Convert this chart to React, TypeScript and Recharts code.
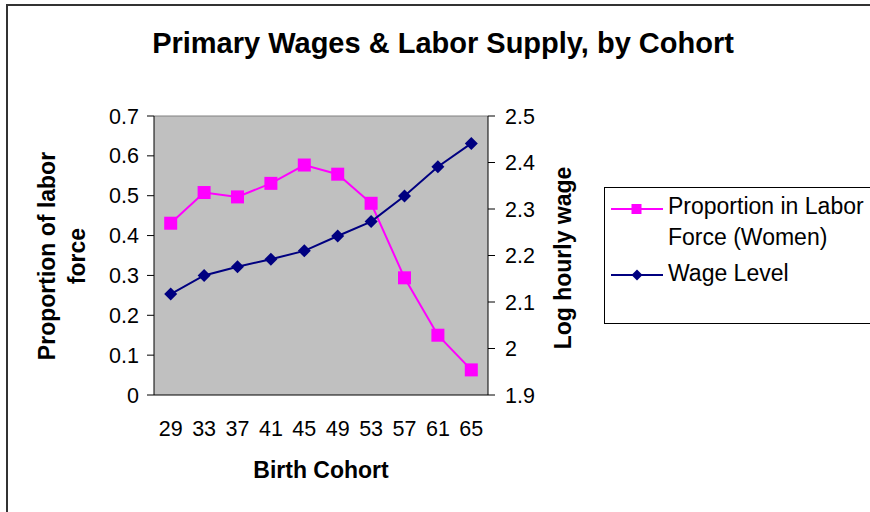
import { LineChart, Line, XAxis, YAxis, CartesianGrid, ReferenceLine } from "recharts";

// birth cohort (year of birth, 19xx)
const cohorts = [29, 33, 37, 41, 45, 49, 53, 57, 61, 65];
const cohortEdges = [27, 31, 35, 39, 43, 47, 51, 55, 59, 63, 67];
const laborShare = [0.431, 0.508, 0.497, 0.531, 0.577, 0.554, 0.481, 0.294, 0.15, 0.063];
const wageLevel = [2.117, 2.157, 2.176, 2.192, 2.21, 2.242, 2.273, 2.328, 2.391, 2.441];
const leftTicks = [0, 0.1, 0.2, 0.3, 0.4, 0.5, 0.6, 0.7];
const rightTicks = [1.9, 2, 2.1, 2.2, 2.3, 2.4, 2.5];

const PINK = "#FF00FF";
const NAVY = "#000080";
const FONT = "'Liberation Sans', Arial, sans-serif";

const data = cohorts.map((c, i) => ({
  cohort: c,
  labor: laborShare[i],
  wage: wageLevel[i],
}));

const tickStyle = { fontSize: 21.5, fill: "#000", fontFamily: FONT };

const SquareDot = (p: any) => (
  <rect key={`sq-${p.index}`} x={p.cx - 6.5} y={p.cy - 6.5} width={13} height={13} fill={PINK} />
);

const DiamondDot = (p: any) => (
  <polygon
    key={`dm-${p.index}`}
    points={`${p.cx},${p.cy - 6.5} ${p.cx + 6.5},${p.cy} ${p.cx},${p.cy + 6.5} ${p.cx - 6.5},${p.cy}`}
    fill={NAVY}
  />
);

function VText({ x, y, lines }: { x: number; y: number; lines: string[] }) {
  return (
    <div
      style={{
        position: "absolute",
        left: x,
        top: y,
        transform: "translate(-50%, -50%) rotate(-90deg)",
        whiteSpace: "nowrap",
        textAlign: "center",
        fontWeight: "bold",
        fontSize: 23,
        lineHeight: "30px",
      }}
    >
      {lines.map((l) => (
        <div key={l}>{l}</div>
      ))}
    </div>
  );
}

export default function App() {
  return (
    <div
      style={{
        position: "fixed",
        left: 0,
        top: 0,
        width: 870,
        height: 512,
        overflow: "hidden",
        background: "#fff",
        fontFamily: FONT,
        color: "#000",
      }}
    >
      <div
        style={{
          position: "absolute",
          left: 6,
          top: 4,
          width: 1000,
          height: 1000,
          border: "2px solid #333",
        }}
      />
      <div style={{ position: "absolute", left: 0, top: 0 }}>
        <LineChart
          width={870}
          height={512}
          data={data}
          margin={{ top: 116, right: 322, bottom: 56, left: 94 }}
        >
          <CartesianGrid
            xAxisId="lab"
            yAxisId="left"
            horizontal={false}
            vertical={false}
            fill="#C0C0C0"
          />
          <XAxis
            xAxisId="edge"
            dataKey="cohort"
            type="number"
            domain={[27, 67]}
            ticks={cohortEdges}
            tick={false}
            axisLine={{ stroke: "#000" }}
            tickLine={{ stroke: "#000" }}
            tickSize={7}
            height={1}
          />
          <XAxis
            xAxisId="lab"
            dataKey="cohort"
            type="number"
            domain={[27, 67]}
            ticks={cohorts}
            interval={0}
            axisLine={false}
            tickLine={false}
            tickSize={0}
            tickMargin={25}
            tick={tickStyle}
            height={60}
          />
          <YAxis
            yAxisId="left"
            domain={[0, 0.7]}
            ticks={leftTicks}
            interval={0}
            width={60}
            axisLine={{ stroke: "#000" }}
            tickLine={{ stroke: "#000" }}
            tickSize={7}
            tickMargin={8}
            tick={tickStyle}
            tickFormatter={(v: number) => String(v)}
          />
          <YAxis
            yAxisId="right"
            orientation="right"
            domain={[1.9, 2.5]}
            ticks={rightTicks}
            interval={0}
            width={60}
            axisLine={{ stroke: "#000" }}
            tickLine={{ stroke: "#000" }}
            tickSize={7}
            tickMargin={10}
            tick={tickStyle}
            tickFormatter={(v: number) => String(v)}
          />
          <ReferenceLine xAxisId="lab" yAxisId="left" y={0.7} stroke="#808080" />
          <Line
            xAxisId="lab"
            yAxisId="left"
            dataKey="labor"
            stroke={PINK}
            strokeWidth={2}
            dot={SquareDot}
            activeDot={false}
            isAnimationActive={false}
          />
          <Line
            xAxisId="lab"
            yAxisId="right"
            dataKey="wage"
            stroke={NAVY}
            strokeWidth={2}
            dot={DiamondDot}
            activeDot={false}
            isAnimationActive={false}
          />
        </LineChart>
      </div>

      <div
        style={{
          position: "absolute",
          left: 443,
          top: 43,
          transform: "translate(-50%, -50%)",
          whiteSpace: "nowrap",
          fontWeight: "bold",
          fontSize: 29,
        }}
      >
        Primary Wages &amp; Labor Supply, by Cohort
      </div>

      <div
        style={{
          position: "absolute",
          left: 321,
          top: 470,
          transform: "translate(-50%, -50%)",
          whiteSpace: "nowrap",
          fontWeight: "bold",
          fontSize: 23,
        }}
      >
        Birth Cohort
      </div>

      <VText x={62} y={256} lines={["Proportion of labor", "force"]} />
      <VText x={563} y={258} lines={["Log hourly wage"]} />

      <div
        style={{
          position: "absolute",
          left: 604,
          top: 187,
          width: 300,
          height: 135,
          border: "1.5px solid #000",
          fontSize: 23,
        }}
      >
        <svg style={{ position: "absolute", left: 6, top: 11 }} width={52} height={20}>
          <line x1={0} y1={10} x2={52} y2={10} stroke={PINK} strokeWidth={2} />
          <rect x={20.5} y={5} width={10} height={10} fill={PINK} />
        </svg>
        <div style={{ position: "absolute", left: 63, top: 3, lineHeight: "31px", whiteSpace: "nowrap" }}>
          <div>Proportion in Labor</div>
          <div>Force (Women)</div>
        </div>
        <svg style={{ position: "absolute", left: 6, top: 77 }} width={52} height={20}>
          <line x1={0} y1={10} x2={52} y2={10} stroke={NAVY} strokeWidth={2} />
          <polygon points="26,4.5 31.5,10 26,15.5 20.5,10" fill={NAVY} />
        </svg>
        <div style={{ position: "absolute", left: 63, top: 70, lineHeight: "31px", whiteSpace: "nowrap" }}>
          Wage Level
        </div>
      </div>
    </div>
  );
}
